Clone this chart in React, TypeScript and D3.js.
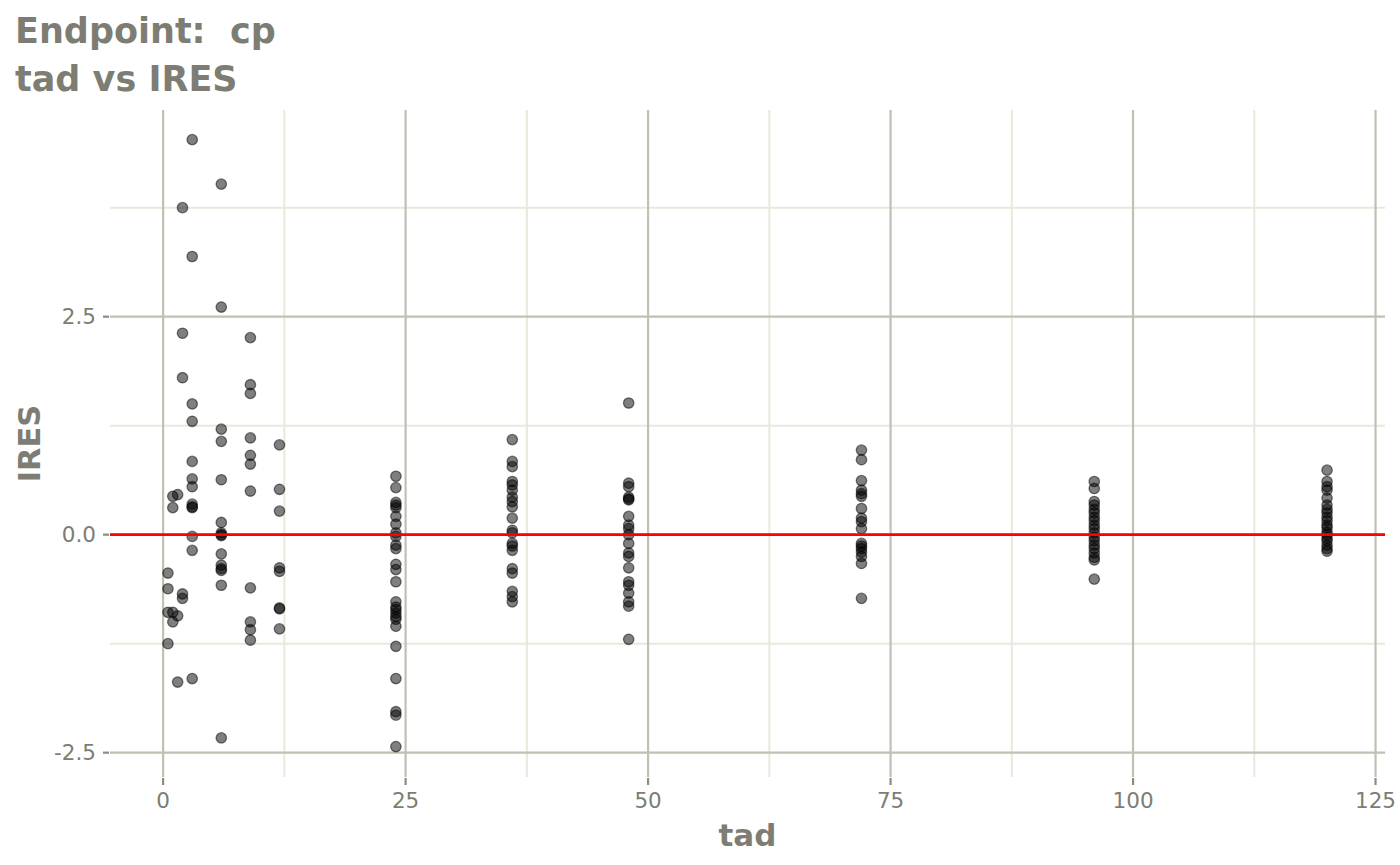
import * as d3 from 'd3';

// tad (time after dose) values where samples were taken
const tadLevels = [0.5, 1, 1.5, 2, 3, 6, 9, 12, 24, 36, 48, 72, 96, 120];

// IRES values read per tad level
const ires0_5 = [-0.44, -0.62, -0.89, -1.25];
const ires1 = [0.44, 0.31, -0.89, -1.0];
const ires1_5 = [0.46, -0.93, -1.69];
const ires2 = [3.75, 2.31, 1.8, -0.68, -0.73];
const ires3 = [4.53, 3.19, 1.5, 1.3, 0.84, 0.64, 0.55, 0.35, 0.32, 0.31, -0.02, -0.18, -1.65];
const ires6 = [4.02, 2.61, 1.21, 1.07, 0.63, 0.14, 0.02, 0.0, -0.01, -0.22, -0.35, -0.39, -0.41, -0.58, -2.33];
const ires9 = [2.26, 1.72, 1.62, 1.11, 0.91, 0.81, 0.5, -0.61, -1.0, -1.09, -1.21];
const ires12 = [1.03, 0.52, 0.27, -0.38, -0.42, -0.84, -0.85, -1.08];
const ires24 = [0.67, 0.54, 0.37, 0.34, 0.31, 0.21, 0.12, 0.02, -0.02, -0.12, -0.16, -0.34, -0.4, -0.54, -0.77, -0.83, -0.86, -0.9, -0.94, -0.97, -1.05, -1.28, -1.65, -2.03, -2.07, -2.43];
const ires36 = [1.09, 0.84, 0.78, 0.61, 0.57, 0.51, 0.43, 0.38, 0.32, 0.19, 0.05, 0.02, -0.1, -0.13, -0.18, -0.39, -0.44, -0.65, -0.71, -0.77];
const ires48 = [1.51, 0.59, 0.55, 0.43, 0.41, 0.4, 0.21, 0.11, 0.07, 0.0, -0.1, -0.21, -0.25, -0.38, -0.54, -0.58, -0.67, -0.77, -0.82, -1.2];
const ires72 = [0.97, 0.86, 0.62, 0.51, 0.47, 0.44, 0.3, 0.19, 0.15, 0.07, -0.1, -0.13, -0.16, -0.2, -0.25, -0.33, -0.73];
const ires96 = [0.61, 0.53, 0.38, 0.34, 0.29, 0.25, 0.2, 0.16, 0.11, 0.07, 0.02, -0.03, -0.07, -0.12, -0.16, -0.21, -0.26, -0.29, -0.51];
const ires120 = [0.74, 0.61, 0.55, 0.51, 0.42, 0.34, 0.29, 0.25, 0.2, 0.16, 0.11, 0.08, 0.03, 0.0, -0.04, -0.07, -0.12, -0.16, -0.19];

const iresByLevel = [ires0_5, ires1, ires1_5, ires2, ires3, ires6, ires9, ires12, ires24, ires36, ires48, ires72, ires96, ires120];

const xMajor = [0, 25, 50, 75, 100, 125];
const xMinor = [12.5, 37.5, 62.5, 87.5, 112.5];
const yMajor = [-2.5, 0, 2.5];
const yMinor = [-1.25, 1.25, 3.75];

const W = 1400;
const H = 865;
const PANEL = { left: 110, right: 1385, top: 110, bottom: 777 };

const FONT = '"DejaVu Sans", sans-serif';
const TEXT_COL = '#7d7d73';
const MAJOR_COL = '#c0c0b4';
const MINOR_COL = '#e8e8dc';
const TICK_COL = '#8c8c82';

// plain hyphen for negatives, like the original
const fmtY = (v: number) => v.toFixed(1);

export default function App() {
    const points = tadLevels.flatMap((t, i) => iresByLevel[i].map((v) => ({ tad: t, ires: v })));

    const x = d3.scaleLinear().domain([-5.475, 125.975]).range([PANEL.left, PANEL.right]);
    const y = d3.scaleLinear().domain([-2.779, 4.87]).range([PANEL.bottom, PANEL.top]);

    return (
        <div style={{ position: 'absolute', left: 0, top: 0 }}>
            <svg width={W} height={H} style={{ display: 'block', background: '#fff' }}>
                {/* minor grid */}
                {yMinor.map((v) => (
                    <line key={'ym' + v} x1={PANEL.left} x2={PANEL.right} y1={y(v)} y2={y(v)}
                        stroke={MINOR_COL} strokeWidth={2} />
                ))}
                {xMinor.map((v) => (
                    <line key={'xm' + v} x1={x(v)} x2={x(v)} y1={PANEL.top} y2={PANEL.bottom}
                        stroke={MINOR_COL} strokeWidth={2} />
                ))}
                {/* major grid */}
                {yMajor.map((v) => (
                    <line key={'yM' + v} x1={PANEL.left} x2={PANEL.right} y1={y(v)} y2={y(v)}
                        stroke={MAJOR_COL} strokeWidth={2.2} />
                ))}
                {xMajor.map((v) => (
                    <line key={'xM' + v} x1={x(v)} x2={x(v)} y1={PANEL.top} y2={PANEL.bottom}
                        stroke={MAJOR_COL} strokeWidth={2.2} />
                ))}

                {/* points */}
                {points.map((p, i) => (
                    <circle key={i} cx={x(p.tad)} cy={y(p.ires)} r={5.2}
                        fill="#000" fillOpacity={0.5}
                        stroke="#000" strokeOpacity={0.5} strokeWidth={1.3} />
                ))}

                {/* reference line */}
                <line x1={PANEL.left} x2={PANEL.right} y1={y(0)} y2={y(0)} stroke="#ff0000" strokeWidth={2.8} />

                {/* axis ticks */}
                {xMajor.map((v) => (
                    <g key={'xt' + v}>
                        <line x1={x(v)} x2={x(v)} y1={PANEL.bottom + 1} y2={PANEL.bottom + 8}
                            stroke={TICK_COL} strokeWidth={2.2} />
                        <text x={x(v)} y={808} textAnchor="middle" fontFamily={FONT} fontSize={21.5}
                            fill={TEXT_COL}>{v}</text>
                    </g>
                ))}
                {yMajor.map((v) => (
                    <g key={'yt' + v}>
                        <line x1={PANEL.left - 7} x2={PANEL.left - 1} y1={y(v)} y2={y(v)}
                            stroke={TICK_COL} strokeWidth={2.2} />
                        <text x={96} y={y(v)} dy="0.36em" textAnchor="end" fontFamily={FONT} fontSize={21.5}
                            fill={TEXT_COL}>{fmtY(v)}</text>
                    </g>
                ))}

                {/* axis titles */}
                <text x={(PANEL.left + PANEL.right) / 2} y={846} textAnchor="middle" fontFamily={FONT}
                    fontWeight="bold" fontSize={31} fill={TEXT_COL}>tad</text>
                <text transform={`translate(40,${(PANEL.top + PANEL.bottom) / 2}) rotate(-90)`} textAnchor="middle"
                    fontFamily={FONT} fontWeight="bold" fontSize={30.5} fill={TEXT_COL}>IRES</text>

                {/* title */}
                <text x={15} y={43} fontFamily={FONT} fontWeight="bold" fontSize={35} fill={TEXT_COL}
                    style={{ whiteSpace: 'pre' }}>{'Endpoint:  cp'}</text>
                <text x={15} y={91} fontFamily={FONT} fontWeight="bold" fontSize={35} fill={TEXT_COL}>tad vs IRES</text>
            </svg>
        </div>
    );
}
